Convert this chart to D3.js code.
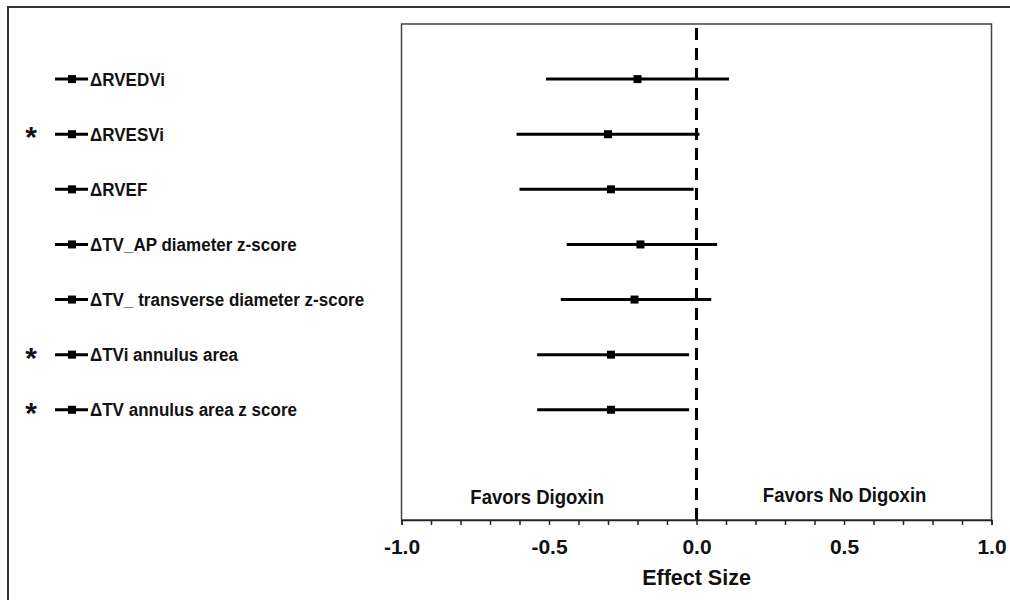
<!DOCTYPE html>
<html>
<head>
<meta charset="utf-8">
<script src="https://cdn.jsdelivr.net/npm/d3@7/dist/d3.min.js"></script>
<style>
  html, body { margin: 0; padding: 0; background: #fff; }
  svg { display: block; font-family: "Liberation Sans", Arial, sans-serif; }
</style>
</head>
<body>
<svg id="chart" width="1010" height="600"></svg>
<script>
// ---- data ----
const labels = [
  "ΔRVEDVi",
  "ΔRVESVi",
  "ΔRVEF",
  "ΔTV_AP diameter z-score",
  "ΔTV_ transverse diameter z-score",
  "ΔTVi annulus area",
  "ΔTV annulus area z score"
];
const significant = [false, true, false, false, false, true, true];
const estimates = [-0.20, -0.30, -0.29, -0.19, -0.21, -0.29, -0.29];
const lower     = [-0.51, -0.61, -0.60, -0.44, -0.46, -0.54, -0.54];
const upper     = [ 0.11,  0.01, -0.01,  0.07,  0.05, -0.025, -0.025];
const majorTicks = [-1.0, -0.5, 0.0, 0.5, 1.0];
const minorTicks = d3.range(-10, 11).map(d => d / 10);
const xTitle = "Effect Size";
const leftNote = "Favors Digoxin";
const rightNote = "Favors No Digoxin";

// ---- layout ----
const svg = d3.select("#chart");
const plot = { left: 401.5, right: 991.5, top: 24, bottom: 520 };

const x = d3.scaleLinear().domain([-1, 1]).range([plot.left, plot.right]);
const y = d3.scaleLinear().domain([0, 9]).range([plot.top, plot.bottom]);

// outer frame
svg.append("rect")
  .attr("x", 8).attr("y", 7).attr("width", 1010).attr("height", 610)
  .attr("fill", "none").attr("stroke", "#333").attr("stroke-width", 2);

// plot frame
svg.append("rect")
  .attr("x", plot.left).attr("y", plot.top)
  .attr("width", plot.right - plot.left).attr("height", plot.bottom - plot.top)
  .attr("fill", "none").attr("stroke", "#444").attr("stroke-width", 1.5);

// zero dashed line
svg.append("line")
  .attr("x1", x(0)).attr("x2", x(0))
  .attr("y1", plot.top + 4).attr("y2", plot.bottom)
  .attr("stroke", "#000").attr("stroke-width", 3)
  .attr("stroke-dasharray", "12,8");

// axis
const axis = d3.axisBottom(x)
  .tickValues(minorTicks)
  .tickSize(5)
  .tickPadding(14)
  .tickFormat(d => majorTicks.some(m => Math.abs(m - d) < 1e-9) ? d3.format(".1f")(d).replace("−", "-") : "");
const gAxis = svg.append("g").attr("transform", `translate(0,${plot.bottom})`).call(axis);
gAxis.select(".domain").attr("stroke", "#222").attr("stroke-width", 1.5);
gAxis.selectAll(".tick line").attr("stroke", "#222").attr("stroke-width", 1.5);
gAxis.selectAll(".tick text")
  .attr("fill", "#111")
  .style("font-size", "21px").style("font-weight", "bold")
  .style("font-family", "'Liberation Sans', Arial, sans-serif");

// axis title
svg.append("text")
  .attr("x", x(0)).attr("y", 584.5)
  .attr("text-anchor", "middle")
  .style("font-size", "21.5px").style("font-weight", "bold").attr("fill", "#111")
  .text(xTitle);

// favors notes
svg.append("text")
  .attr("transform", `translate(${x(-0.54)},504) scale(0.95,1)`)
  .attr("text-anchor", "middle")
  .style("font-size", "19.5px").style("font-weight", "bold").attr("fill", "#111")
  .text(leftNote);
svg.append("text")
  .attr("transform", `translate(${x(0.502)},502) scale(0.95,1)`)
  .attr("text-anchor", "middle")
  .style("font-size", "19.5px").style("font-weight", "bold").attr("fill", "#111")
  .text(rightNote);

// forest rows
const rows = labels.map((l, i) => ({
  label: l, sig: significant[i], est: estimates[i], lo: lower[i], hi: upper[i], pos: i + 1
}));

const gRows = svg.append("g");
gRows.selectAll("line.ci").data(rows).join("line")
  .attr("class", "ci")
  .attr("x1", d => x(d.lo)).attr("x2", d => x(d.hi))
  .attr("y1", d => y(d.pos)).attr("y2", d => y(d.pos))
  .attr("stroke", "#000").attr("stroke-width", 3);
const ms = 8;
gRows.selectAll("rect.est").data(rows).join("rect")
  .attr("class", "est")
  .attr("x", d => x(d.est) - ms / 2).attr("y", d => y(d.pos) - ms / 2)
  .attr("width", ms).attr("height", ms).attr("fill", "#000");

// legend / labels on the left
const gLeg = svg.append("g");
gLeg.selectAll("line.sym").data(rows).join("line")
  .attr("class", "sym")
  .attr("x1", 55).attr("x2", 88)
  .attr("y1", d => y(d.pos)).attr("y2", d => y(d.pos))
  .attr("stroke", "#000").attr("stroke-width", 3);
gLeg.selectAll("rect.sym").data(rows).join("rect")
  .attr("class", "sym")
  .attr("x", 72 - 4).attr("y", d => y(d.pos) - 4)
  .attr("width", 8).attr("height", 8).attr("fill", "#000");
gLeg.selectAll("text.lab").data(rows).join("text")
  .attr("class", "lab")
  .attr("transform", d => `translate(90,${y(d.pos) + 6.5}) scale(0.92,1)`)
  .style("font-size", "18.5px").style("font-weight", "bold").attr("fill", "#111")
  .text(d => d.label);
gLeg.selectAll("text.star").data(rows.filter(d => d.sig)).join("text")
  .attr("class", "star")
  .attr("x", 31).attr("y", d => y(d.pos) + 13)
  .attr("text-anchor", "middle")
  .style("font-size", "30px").style("font-weight", "bold").attr("fill", "#111")
  .text("*");
</script>
</body>
</html>
